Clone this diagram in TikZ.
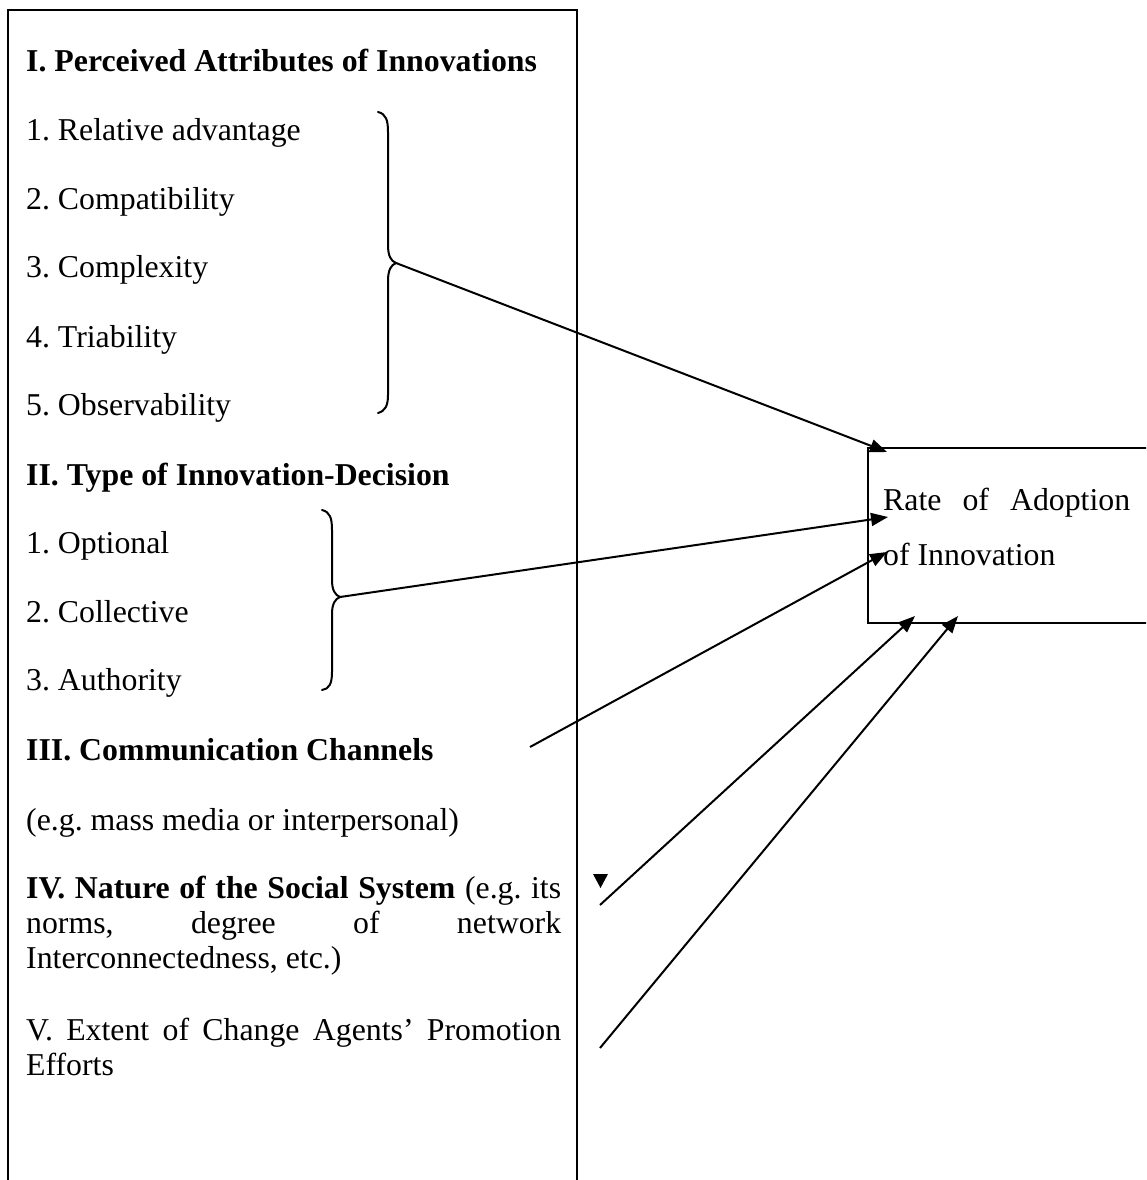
\documentclass[tikz,border=0pt]{standalone}
\usepackage{fontspec}
\setmainfont{Liberation Serif}
\usetikzlibrary{arrows.meta}
\frenchspacing
\begin{document}
\begin{tikzpicture}[x=1pt,y=-1pt,
  frame/.style={draw,line width=2.2pt,inner sep=0pt,outer sep=0pt},
  item/.style={anchor=base west,inner sep=0pt,font=\fontsize{31.8}{35}\selectfont},
  link/.style={line width=2pt,-{Triangle[length=17pt,width=13pt]}},
  bracket/.style={line width=2pt,line cap=round}]
\useasboundingbox (0,0) rectangle (1146,1180);
\clip (0,0) rectangle (1146,1180);

% the two frames (open beyond the page edges)
\node[frame,anchor=north west,minimum width=569pt,minimum height=1220pt] (factors) at (8,10) {};
\node[frame,anchor=north west,minimum width=300pt,minimum height=175pt] (rate) at (868,448) {};

% list of variables
\node[item] (h1) at (26,72)  {\textbf{I. Perceived Attributes of Innovations}};
\node[item] (a1) at (26,140) {1. Relative advantage};
\node[item] (a2) at (26,209) {2. Compatibility};
\node[item] (a3) at (26,277) {3. Complexity};
\node[item] (a4) at (26,347) {4. Triability};
\node[item] (a5) at (26,415) {5. Observability};
\node[item] (h2) at (26,485) {\textbf{II. Type of Innovation-Decision}};
\node[item] (b1) at (26,553) {1. Optional};
\node[item] (b2) at (26,622) {2. Collective};
\node[item] (b3) at (26,690) {3. Authority};
\node[item] (h3) at (26,760) {\textbf{III. Communication Channels}};
\node[item] (c1) at (26,830) {(e.g. mass media or interpersonal)};
\node[item] (h4a) at (26,898) {\makebox[535pt][s]{\textbf{IV. Nature of the Social System} (e.g. its}};
\node[item] (h4b) at (26,933) {\makebox[535pt][s]{norms, degree of network}};
\node[item] (h4c) at (26,968) {Interconnectedness, etc.)};
\node[item] (h5a) at (26,1040) {\makebox[535pt][s]{V. Extent of Change Agents’ Promotion}};
\node[item] (h5b) at (26,1075) {Efforts};

% outcome
\node[item] (r1) at (883,510) {\makebox[247pt][s]{Rate of Adoption}};
\node[item] (r2) at (883,565) {of Innovation};

% braces grouping the sub-items
\coordinate (tipA) at (396,263);
\coordinate (tipB) at (340,597);
\draw[bracket] (378,112) .. controls (386,114) and (388,120) .. (388,132) -- (388,245)
  .. controls (388,256) and (391,261) .. (tipA)
  .. controls (391,265) and (388,270) .. (388,281) -- (388,395)
  .. controls (388,406) and (385,411) .. (378,413);
\draw[bracket] (322,510) .. controls (330,512) and (332,518) .. (332,530) -- (332,580)
  .. controls (332,590) and (335,595) .. (tipB)
  .. controls (335,599) and (332,604) .. (332,614) -- (332,672)
  .. controls (332,684) and (329,689) .. (322,690);

% connector ends
\coordinate (srcC) at (530,747);
\coordinate (srcD) at (600,905);
\coordinate (srcE) at (600,1048);
\coordinate (inA) at (887,452);
\coordinate (inB) at (888,517);
\coordinate (inC) at (887,552);
\coordinate (inD) at (915,616);
\coordinate (inE) at (958,616);

\draw[link] (tipA) -- (inA);
\draw[link] (tipB) -- (inB);
\draw[link] (srcC) -- (inC);
\draw[link] (srcD) -- (inD);
\draw[link] (srcE) -- (inE);

% stray arrow tip
\fill (593,874) -- (608,874) -- (600.5,888) -- cycle;
\end{tikzpicture}
\end{document}
